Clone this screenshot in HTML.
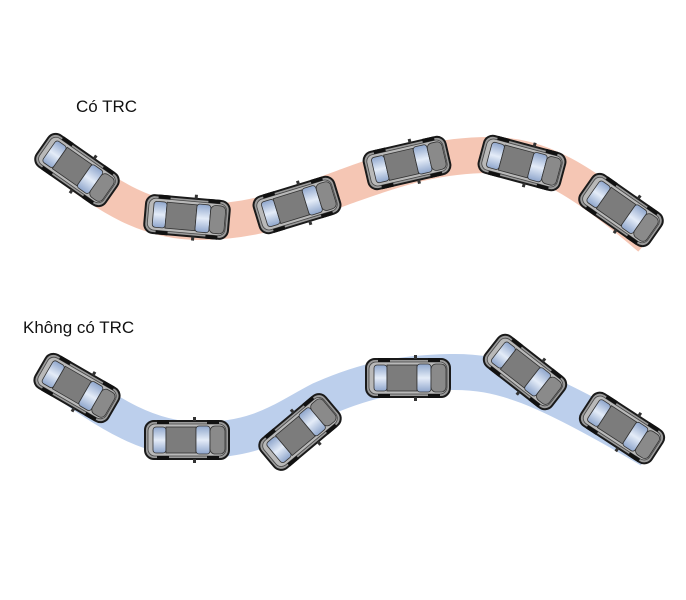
<!DOCTYPE html>
<html><head><meta charset="utf-8"><style>
html,body{margin:0;padding:0;background:#fff;width:686px;height:600px;overflow:hidden}
</style></head><body>
<svg width="686" height="600" viewBox="0 0 686 600" xmlns="http://www.w3.org/2000/svg">
<defs>
<linearGradient id="win" x1="0" y1="0" x2="0" y2="1">
<stop offset="0" stop-color="#8fa6cc"/><stop offset="0.5" stop-color="#e4ecf8"/><stop offset="1" stop-color="#8fa6cc"/>
</linearGradient>
<g id="car">
<rect x="-42" y="-19" width="84" height="38" rx="9" fill="#9a9a9a" stroke="#1a1a1a" stroke-width="2"/>
<rect x="-39" y="-16" width="78" height="32" rx="7" fill="#b9b9b9" stroke="#444" stroke-width="0.8"/>
<rect x="-34" y="-13" width="13" height="26" rx="3" fill="url(#win)" stroke="#333" stroke-width="0.8"/>
<rect x="-21" y="-13" width="30" height="26" fill="#7c7c7c" stroke="#333" stroke-width="0.8"/>
<rect x="9" y="-14" width="14" height="28" rx="3" fill="url(#win)" stroke="#333" stroke-width="0.8"/>
<rect x="23" y="-14" width="15" height="28" rx="5" fill="#8a8a8a" stroke="#333" stroke-width="0.8"/>
<rect x="-30" y="-20" width="12" height="4" fill="#111"/>
<rect x="-30" y="16" width="12" height="4" fill="#111"/>
<rect x="20" y="-20" width="12" height="4" fill="#111"/>
<rect x="20" y="16" width="12" height="4" fill="#111"/>
<rect x="6" y="-23" width="3" height="4" fill="#333"/>
<rect x="6" y="19" width="3" height="4" fill="#333"/>
</g>
</defs>
<path d="M55,155 C110,200 150,222 200,222 C260,222 300,203 350,185 C400,167 440,155 490,155 C540,155 580,178 650,238" fill="none" stroke="#f5c6b4" stroke-width="36"/>
<path d="M55,375 C110,415 150,440 200,440 C260,440 285,418 320,400 C365,380 400,373 450,372 C500,371 540,385 650,450" fill="none" stroke="#bccfec" stroke-width="36"/>
<text x="76" y="112" font-family="Liberation Sans, sans-serif" font-size="17" fill="#111">Có TRC</text>
<text x="23" y="333" font-family="Liberation Sans, sans-serif" font-size="17" fill="#111">Không có TRC</text>
<use href="#car" transform="translate(77,170) rotate(35)"/>
<use href="#car" transform="translate(187,217) rotate(5)"/>
<use href="#car" transform="translate(297,205) rotate(-17)"/>
<use href="#car" transform="translate(407,163) rotate(-13)"/>
<use href="#car" transform="translate(522,163) rotate(15)"/>
<use href="#car" transform="translate(621,210) rotate(35)"/>
<use href="#car" transform="translate(77,388) rotate(30)"/>
<use href="#car" transform="translate(187,440) rotate(0)"/>
<use href="#car" transform="translate(300,432) rotate(-40)"/>
<use href="#car" transform="translate(408,378) rotate(0)"/>
<use href="#car" transform="translate(525,372) rotate(38)"/>
<use href="#car" transform="translate(622,428) rotate(33)"/>
</svg>
</body></html>
